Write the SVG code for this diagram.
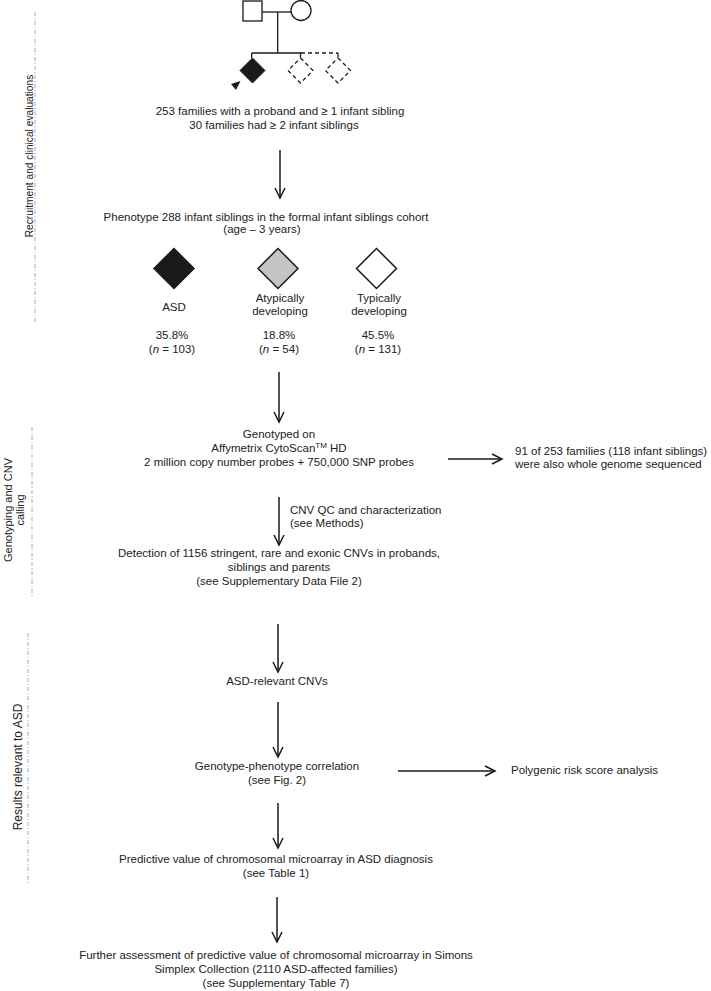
<svg xmlns="http://www.w3.org/2000/svg" width="711" height="991" viewBox="0 0 711 991">
<defs>
<marker id="ah" markerUnits="userSpaceOnUse" markerWidth="14" markerHeight="14" viewBox="-1 -7 14 14" refX="11" refY="0" orient="auto">
<path d="M1,-5 L11,0 L1,5" fill="none" stroke="#1a1a1a" stroke-width="1.5"/>
</marker>
</defs>
<style>
text{font-family:"Liberation Sans",Arial,sans-serif;font-size:11.5px;fill:#222}
.c{text-anchor:middle}
.conn{stroke:#1a1a1a;stroke-width:1.5;fill:none;marker-end:url(#ah)}
.sec{stroke:#a8a8a8;stroke-width:1;stroke-dasharray:4 2 1 2;fill:none}
.ped{stroke:#1a1a1a;stroke-width:1.3;fill:#fff}
.pedd{stroke:#1a1a1a;stroke-width:1.3;fill:none;stroke-dasharray:4 3}
.dia{stroke:#1a1a1a;stroke-width:1.5}
</style>

<g id="sections">
<line class="sec" x1="35" y1="12" x2="35" y2="322"/>
<text class="c" transform="translate(33,156) rotate(-90)" style="font-size:10.2px">Recruitment and clinical evaluations</text>
<line class="sec" x1="32" y1="427" x2="32" y2="598"/>
<text class="c" transform="translate(12,510) rotate(-90)" style="font-size:11px">Genotyping and CNV</text>
<text class="c" transform="translate(24,510) rotate(-90)" style="font-size:11px">calling</text>
<line class="sec" x1="28" y1="633" x2="28" y2="885"/>
<text class="c" transform="translate(22,767) rotate(-90)" style="font-size:12px">Results relevant to ASD</text>
</g>

<g id="pedigree">
<line x1="262" y1="12" x2="291" y2="12" stroke="#1a1a1a" stroke-width="1.3"/>
<line x1="277.7" y1="12" x2="277.7" y2="53" stroke="#1a1a1a" stroke-width="1.3"/>
<line x1="251.7" y1="53" x2="301" y2="53" stroke="#1a1a1a" stroke-width="1.3"/>
<line x1="251.7" y1="53" x2="251.7" y2="58" stroke="#1a1a1a" stroke-width="1.3"/>
<line class="pedd" x1="301" y1="53" x2="338" y2="53"/>
<line class="pedd" x1="300.5" y1="53" x2="300.5" y2="58"/>
<line class="pedd" x1="338" y1="53" x2="338" y2="58"/>
<rect class="ped" x="243" y="1" width="19" height="20"/>
<circle class="ped" cx="301" cy="10.5" r="10"/>
<polygon points="252.5,58 265,70.5 252.5,83 240,70.5" fill="#1a1a1a" stroke="#1a1a1a" stroke-width="1"/>
<polygon class="pedd" points="300.5,58 313,70.5 300.5,83 288,70.5"/>
<polygon class="pedd" points="338,58 350.5,70.5 338,83 325.5,70.5"/>
<polygon points="231,84 240.5,81 236,90" fill="#1a1a1a"/>
</g>

<g id="n1">
<text class="c" x="280" y="115">253 families with a proband and ≥ 1 infant sibling</text>
<text class="c" x="274" y="129">30 families had ≥ 2 infant siblings</text>
</g>

<g id="n2">
<text class="c" x="266" y="221">Phenotype 288 infant siblings in the formal infant siblings cohort</text>
<text class="c" x="262" y="233">(age – 3 years)</text>
</g>

<g id="asd">
<polygon class="dia" points="174,248.5 194,268.5 174,288.5 154,268.5" fill="#1a1a1a"/>
<text class="c" x="174" y="311">ASD</text>
<text class="c" x="172" y="339">35.8%</text>
<text class="c" x="172" y="353">(<tspan font-style="italic">n</tspan> = 103)</text>
</g>

<g id="atypical">
<polygon class="dia" points="278,248.5 298,268.5 278,288.5 258,268.5" fill="#c4c4c4"/>
<text class="c" x="280" y="302">Atypically</text>
<text class="c" x="280" y="315">developing</text>
<text class="c" x="279" y="339">18.8%</text>
<text class="c" x="279" y="353">(<tspan font-style="italic">n</tspan> = 54)</text>
</g>

<g id="typical">
<polygon class="dia" points="376.5,248.5 396.5,268.5 376.5,288.5 356.5,268.5" fill="#fff"/>
<text class="c" x="379" y="302">Typically</text>
<text class="c" x="379" y="315">developing</text>
<text class="c" x="378" y="339">45.5%</text>
<text class="c" x="378" y="353">(<tspan font-style="italic">n</tspan> = 131)</text>
</g>

<g id="n3">
<text class="c" x="279" y="438">Genotyped on</text>
<text class="c" x="279" y="452">Affymetrix CytoScan<tspan font-size="8" dy="-4">TM</tspan><tspan dy="4"> HD</tspan></text>
<text class="c" x="279" y="466">2 million copy number probes + 750,000 SNP probes</text>
</g>

<g id="n4">
<text x="515" y="455">91 of 253 families (118 infant siblings)</text>
<text x="515" y="468">were also whole genome sequenced</text>
</g>

<g id="n5">
<text x="290" y="514">CNV QC and characterization</text>
<text x="290" y="527">(see Methods)</text>
</g>

<g id="n6">
<text class="c" x="279" y="557">Detection of 1156 stringent, rare and exonic CNVs in probands,</text>
<text class="c" x="279" y="571">siblings and parents</text>
<text class="c" x="279" y="585">(see Supplementary Data File 2)</text>
</g>

<g id="n7">
<text class="c" x="277" y="685">ASD-relevant CNVs</text>
</g>

<g id="n8">
<text class="c" x="277" y="770">Genotype-phenotype correlation</text>
<text class="c" x="277" y="784">(see Fig. 2)</text>
</g>

<g id="n9">
<text x="511" y="774">Polygenic risk score analysis</text>
</g>

<g id="n10">
<text class="c" x="276" y="863">Predictive value of chromosomal microarray in ASD diagnosis</text>
<text class="c" x="276" y="877">(see Table 1)</text>
</g>

<g id="n11">
<text class="c" x="276" y="959">Further assessment of predictive value of chromosomal microarray in Simons</text>
<text class="c" x="276" y="973">Simplex Collection (2110 ASD-affected families)</text>
<text class="c" x="276" y="987">(see Supplementary Table 7)</text>
</g>

<g id="connectors">
<line class="conn" x1="280" y1="150" x2="280" y2="198"/>
<line class="conn" x1="279" y1="372" x2="279" y2="422"/>
<line class="conn" x1="448" y1="459" x2="502" y2="459"/>
<line class="conn" x1="279" y1="497" x2="279" y2="545"/>
<line class="conn" x1="278" y1="624" x2="278" y2="672"/>
<line class="conn" x1="278" y1="702" x2="278" y2="757"/>
<line class="conn" x1="398" y1="771" x2="495" y2="771"/>
<line class="conn" x1="278" y1="803" x2="278" y2="848"/>
<line class="conn" x1="277" y1="897" x2="277" y2="942"/>
</g>
</svg>
